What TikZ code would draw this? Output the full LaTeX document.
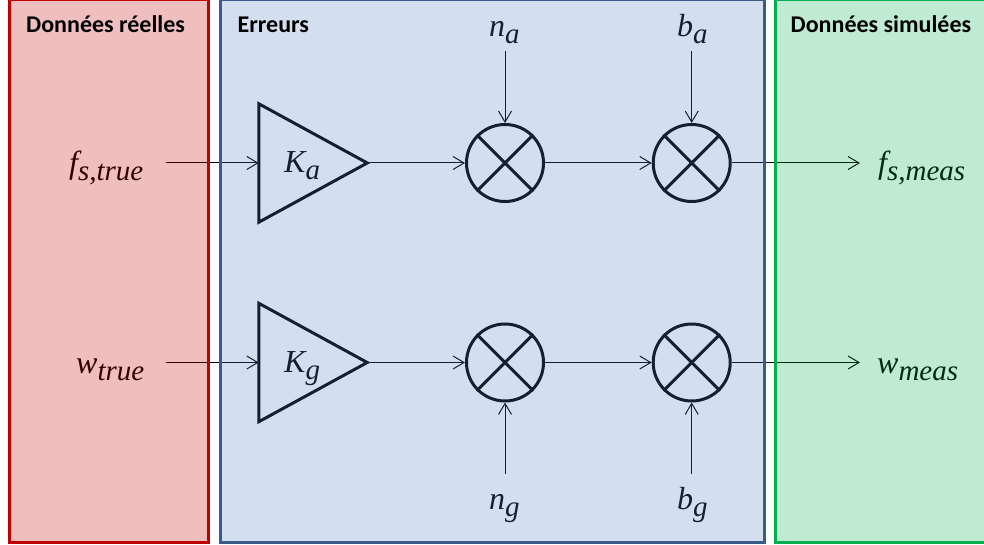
\documentclass[tikz,border=0pt]{standalone}
\usepackage{fontspec}
\setmainfont{Carlito}
\newfontfamily\labfont{Liberation Serif}[ItalicFont=Liberation Serif Italic]
\newcommand{\biglab}[2]{{\labfont\itshape\fontsize{32}{36}\selectfont #1}\raisebox{-7pt}{\labfont\itshape\fontsize{29}{32}\selectfont #2}}
\usetikzlibrary{arrows.meta}
\definecolor{redline}{HTML}{C00000}
\definecolor{bluefill}{HTML}{4F81BD}
\definecolor{blueline}{HTML}{385D8A}
\definecolor{greenline}{HTML}{00B050}
\tikzset{
  x=1pt,y=-1pt,
  panel/.style={rectangle,anchor=north west,line width=3pt,inner sep=0pt,outer sep=0pt},
  heading/.style={font=\fontsize{24}{28}\selectfont\bfseries,text=black,inner sep=0pt,anchor=base west},
  mathlabel/.style={inner sep=0pt,text=black,anchor=base west},
  conn/.style={line width=1pt,draw=black,-{Straight Barb[length=11pt,width=13pt,line width=1pt]}},
  ampbox/.style={rectangle,minimum width=108.5pt,minimum height=118.5pt,inner sep=0pt,outer sep=0pt},
  amp/.style={line width=3pt,line join=miter,draw=black},
  mixer/.style={circle,draw=black,line width=3pt,minimum size=77pt,inner sep=0pt,outer sep=1.5pt},
  cross/.style={line width=3pt,draw=black}
}
\begin{document}
\begin{tikzpicture}
\useasboundingbox (0,0) rectangle (984,545);
\clip (0,0) rectangle (984,545);
% amplifiers
\node[ampbox] (ka) at (313,163) {};
\node[ampbox] (kg) at (313,362.5) {};
\draw[amp] (ka.north west) -- (ka.east) -- (ka.south west) -- cycle;
\draw[amp] (kg.north west) -- (kg.east) -- (kg.south west) -- cycle;
\node[mathlabel] (kalab) at (284,173) {\biglab{K}{a}};
\node[mathlabel] (kglab) at (284,372) {\biglab{K}{g}};
% mixers
\node[mixer] (m1) at (505,163) {};
\node[mixer] (m2) at (691.7,163) {};
\node[mixer] (m3) at (505,362.5) {};
\node[mixer] (m4) at (691.7,362.5) {};
\foreach \m in {m1,m2,m3,m4}{
  \draw[cross] (\m.45) -- (\m.225);
  \draw[cross] (\m.135) -- (\m.315);
}
% labels
\node[mathlabel] (fst) at (69,174) {\biglab{f}{s,true}};
\node[mathlabel] (wt) at (76,373) {\biglab{w}{true}};
\node[mathlabel] (fsm) at (878,174) {\biglab{f}{s,meas}};
\node[mathlabel] (wm) at (877,373) {\biglab{w}{meas}};
\node[mathlabel] (na) at (489,37) {\biglab{n}{a}};
\node[mathlabel] (ba) at (677,37) {\biglab{b}{a}};
\node[mathlabel] (ng) at (489,509) {\biglab{n}{g}};
\node[mathlabel] (bg) at (677,509) {\biglab{b}{g}};
% free ends
\coordinate (fsts) at (165.7,163);
\coordinate (wts) at (165.7,362.5);
\coordinate (fsme) at (860,163);
\coordinate (wme) at (860,362.5);
\coordinate (nas) at (505,51);
\coordinate (bas) at (691.7,51);
\coordinate (ngs) at (505,474);
\coordinate (bgs) at (691.7,474);
% connectors
\draw[conn] (fsts) -- (ka.west);
\draw[conn] (wts) -- (kg.west);
\draw[conn] (ka.east) -- (m1.west);
\draw[conn] (kg.east) -- (m3.west);
\draw[conn] (m1.east) -- (m2.west);
\draw[conn] (m3.east) -- (m4.west);
\draw[conn] (m2.east) -- (fsme);
\draw[conn] (m4.east) -- (wme);
\draw[conn] (nas) -- (m1.north);
\draw[conn] (bas) -- (m2.north);
\draw[conn] (ngs) -- (m3.south);
\draw[conn] (bgs) -- (m4.south);
% translucent panels over the drawing
\node[panel,draw=redline,fill=redline,fill opacity=.25,draw opacity=1,minimum width=199pt,minimum height=543pt] (real) at (9,-0.5) {};
\node[panel,draw=blueline,fill=bluefill,fill opacity=.25,draw opacity=1,minimum width=544pt,minimum height=543pt] (err) at (220,-0.5) {};
\node[panel,draw=greenline,fill=greenline,fill opacity=.25,draw opacity=1,minimum width=240pt,minimum height=543pt] (sim) at (775.5,-0.5) {};
% headings
\node[heading] (h1) at (26,32.5) {Données réelles};
\node[heading] (h2) at (237.5,32.5) {Erreurs};
\node[heading] (h3) at (790.5,32.5) {Données simulées};
\end{tikzpicture}
\end{document}
